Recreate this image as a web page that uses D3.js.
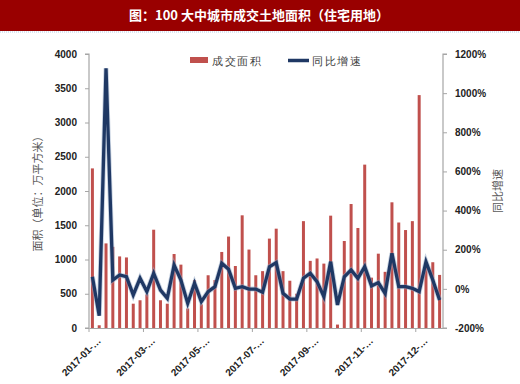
<!DOCTYPE html>
<html lang="zh">
<head>
<meta charset="UTF-8">
<script src="https://d3js.org/d3.v7.min.js"></script>
<style>
  body { margin: 0; background: #fff; }
  text { font-family: "Liberation Sans", Arial, sans-serif; }
  .cjk { font-family: "Noto Sans CJK SC", sans-serif; }
</style>
</head>
<body>
<div id="chart"></div>
<script>
// weekly data for 2017 (52 weeks)
const weeks = d3.range(52);
const area = [2330, 40, 1235, 1185, 1045, 1030, 355, 405, 490, 1435,
              405, 355, 1080, 925, 285, 700, 345, 770, 700, 1110,
              1335, 905, 1645, 1145, 770, 830, 1305, 1450, 830, 690,
              500, 1560, 980, 1015, 940, 1640, 50, 1270, 1810, 1460,
              2385, 735, 1085, 820, 1835, 1540, 1430, 1560, 3400, 950,
              960, 775];
const growth = [62, -137, 1127, 45, 71, 62, -31, 54, -14, 80,
                -6, -48, 122, 45, -74, 29, -65, -14, 11, 131,
                100, 3, 11, -1, -1, -17, 113, 134, -23, -52,
                -52, 54, 80, 37, -40, 139, -82, 62, 97, 54,
                113, 15, 32, -23, 182, 11, 11, 3, -14, 139,
                45, -57];
const tickWeeks = [0, 8, 16, 24, 32, 40, 48];
const tickLabels = ["2017-01-…", "2017-03-…", "2017-05-…", "2017-07-…",
                    "2017-09-…", "2017-11-…", "2017-12-…"];
const leftTicks = [0, 500, 1000, 1500, 2000, 2500, 3000, 3500, 4000];
const rightTicks = [-200, 0, 200, 400, 600, 800, 1000, 1200];

const width = 520, height = 384;
const margin = { top: 54, right: 77, bottom: 56, left: 89 };

const svg = d3.select("#chart").append("svg")
    .attr("width", width)
    .attr("height", height);

// title bar
svg.append("rect")
    .attr("x", 0).attr("y", 0)
    .attr("width", width).attr("height", 31)
    .attr("fill", "#990000");
svg.append("line")
    .attr("x1", 0).attr("x2", width)
    .attr("y1", 32).attr("y2", 32)
    .attr("stroke", "#b4cde6")
    .attr("stroke-dasharray", "1,1");
svg.append("text")
    .attr("class", "cjk")
    .attr("x", 259).attr("y", 20)
    .attr("text-anchor", "middle")
    .attr("fill", "#fff")
    .attr("font-size", "13px")
    .attr("font-weight", "bold")
    .text("图：100 大中城市成交土地面积（住宅用地）");

// scales
const x = d3.scaleBand()
    .domain(weeks)
    .range([margin.left, width - margin.right])
    .paddingInner(0.56)
    .paddingOuter(0.28);
const yL = d3.scaleLinear().domain([0, 4000]).range([height - margin.bottom, margin.top]);
const yR = d3.scaleLinear().domain([-200, 1200]).range([height - margin.bottom, margin.top]);

const grey = "#a6a6a6";

// bars
svg.append("g").selectAll("rect")
    .data(weeks)
    .join("rect")
    .attr("x", d => x(d))
    .attr("y", d => yL(area[d]))
    .attr("width", x.bandwidth())
    .attr("height", d => yL(0) - yL(area[d]))
    .attr("fill", "#c0504d");

// line
const line = d3.line()
    .x(d => x(d) + x.bandwidth() / 2)
    .y(d => yR(growth[d]));
svg.append("path")
    .datum(weeks)
    .attr("d", line)
    .attr("fill", "none")
    .attr("stroke", "#8fa6c4")
    .attr("stroke-opacity", 0.5)
    .attr("stroke-width", 5)
    .attr("stroke-linejoin", "miter");
svg.append("path")
    .datum(weeks)
    .attr("d", line)
    .attr("fill", "none")
    .attr("stroke", "#1f3864")
    .attr("stroke-width", 3.3)
    .attr("stroke-linejoin", "miter");

// axes
const axL = svg.append("g")
    .attr("transform", `translate(${margin.left},0)`)
    .call(d3.axisLeft(yL).tickValues(leftTicks).tickSize(4).tickPadding(8)
        .tickFormat(d3.format("d")));
const axR = svg.append("g")
    .attr("transform", `translate(${width - margin.right},0)`)
    .call(d3.axisRight(yR).tickValues(rightTicks).tickSize(4).tickPadding(8)
        .tickFormat(d => d + "%"));
const axB = svg.append("g")
    .attr("transform", `translate(0,${height - margin.bottom})`)
    .call(d3.axisBottom(x).tickValues([]).tickSizeOuter(0));

axB.selectAll(".tick-mark")
    .data(tickWeeks)
    .join("line")
    .attr("x1", d => x(d) - x.step() * x.paddingOuter())
    .attr("x2", d => x(d) - x.step() * x.paddingOuter())
    .attr("y1", 0).attr("y2", 4)
    .attr("stroke", grey);
axB.selectAll(".lbl")
    .data(tickWeeks)
    .join("text")
    .attr("transform", d => `translate(${x(d) - x.step() * x.paddingOuter() + 10},${11}) rotate(-45)`)
    .attr("text-anchor", "end")
    .attr("dy", "0.35em")
    .attr("fill", "#222")
    .attr("font-size", "10px")
    .attr("font-weight", "bold")
    .text((d, i) => tickLabels[i]);

[axL, axR, axB].forEach(g => {
    g.selectAll(".domain").attr("stroke", grey).attr("stroke-width", 1.2);
    g.selectAll(".tick line").attr("stroke", grey);
    g.selectAll(".tick text")
        .attr("fill", "#222")
        .attr("font-size", "10px")
        .attr("font-weight", "bold");
});
axL.select(".domain").attr("d", `M-4,${yL(4000)}H0V${yL(0)}H-4`);
axR.select(".domain").attr("d", `M4,${yR(1200)}H0V${yR(-200)}H4`);

// axis titles
svg.append("text")
    .attr("class", "cjk")
    .attr("transform", `translate(42,${(margin.top + height - margin.bottom) / 2}) rotate(-90)`)
    .attr("text-anchor", "middle")
    .attr("fill", "#595959")
    .attr("font-size", "11px")
    .text("面积（单位：万平方米）");
svg.append("text")
    .attr("class", "cjk")
    .attr("transform", `translate(502,${(margin.top + height - margin.bottom) / 2}) rotate(-90)`)
    .attr("text-anchor", "middle")
    .attr("fill", "#595959")
    .attr("font-size", "11px")
    .text("同比增速");

// legend
const legend = svg.append("g").attr("class", "cjk");
legend.append("rect")
    .attr("x", 190).attr("y", 57)
    .attr("width", 18).attr("height", 6)
    .attr("fill", "#c0504d");
legend.append("text")
    .attr("x", 212).attr("y", 64.5)
    .attr("fill", "#404040")
    .attr("font-size", "10.5px")
    .attr("letter-spacing", "1.5px")
    .text("成交面积");
legend.append("line")
    .attr("x1", 288).attr("x2", 309)
    .attr("y1", 60.5).attr("y2", 60.5)
    .attr("stroke", "#1f3864")
    .attr("stroke-width", 3.5);
legend.append("text")
    .attr("x", 312).attr("y", 64.5)
    .attr("fill", "#404040")
    .attr("font-size", "10.5px")
    .attr("letter-spacing", "1.5px")
    .text("同比增速");
</script>
</body>
</html>
